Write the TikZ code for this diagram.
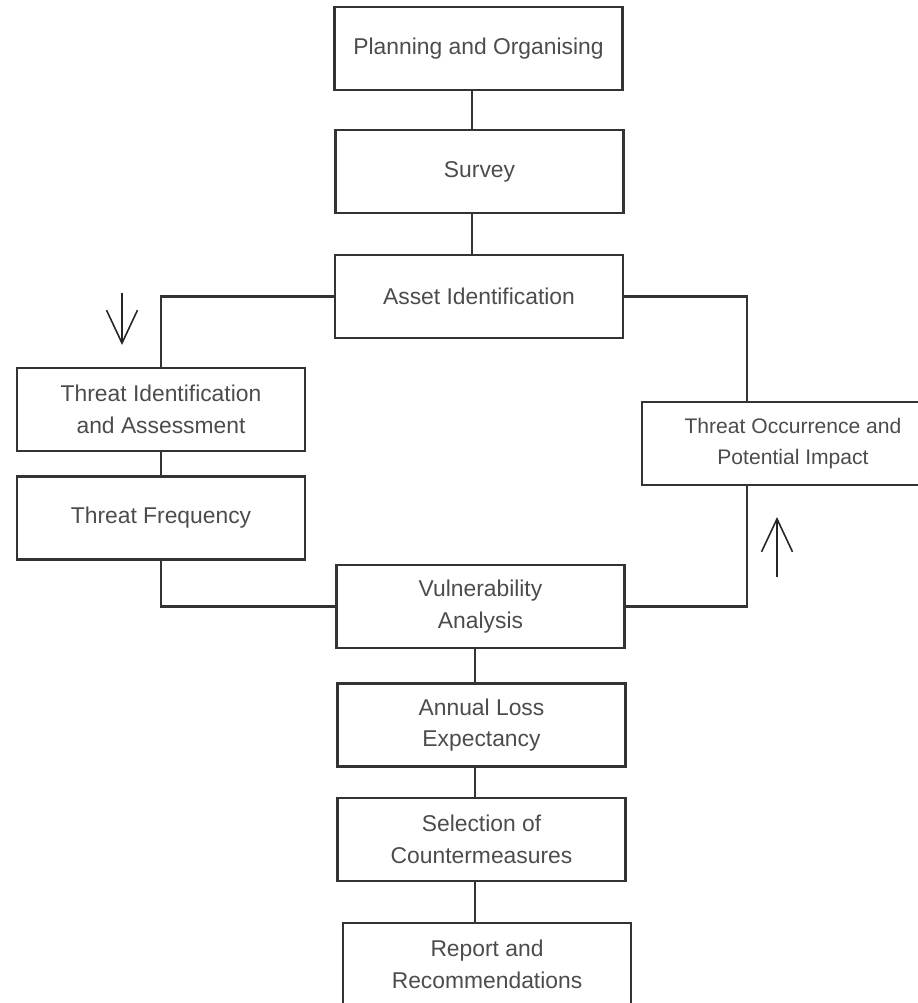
\documentclass[tikz,border=0pt]{standalone}
\usepackage{fontspec}
\setmainfont{Liberation Sans}
\usetikzlibrary{arrows.meta}
\begin{document}
\begin{tikzpicture}[x=0.02cm, y=-0.02cm,
	stage/.style = {draw=black!80, line width=1.2pt, minimum width=5.76cm, minimum height=1.66cm,
		align=center, text=black!70, font=\fontsize{13}{18}\selectfont},
	link/.style = {draw=black!80, line width=1.2pt},
	handarrow/.style = {black!85, line width=0.9pt, -{Straight Barb[length=0.66cm, width=0.62cm]}}]
	\useasboundingbox (0,0) rectangle (917,1003);
	% main column
	\node [stage] (plan) at (478.5,48.5) {Planning and Organising};
	\node [stage] (survey) at (479.5,171.5) {Survey};
	\node [stage] (asset) at (479,296.5) {Asset Identification};
	\node [stage] (vuln) at (480.5,606.5) {Vulnerability\\Analysis};
	\node [stage] (ale) at (481.5,725) {Annual Loss\\Expectancy};
	\node [stage] (select) at (481.5,839.5) {Selection of\\Countermeasures};
	\node [stage] (report) at (487,964.5) {Report and\\Recommendations};
	% side branches
	\node [stage] (threatid) at (161,409.5) {Threat Identification\\and Assessment};
	\node [stage] (freq) at (161,518) {Threat Frequency};
	\node [stage, minimum width=6.04cm, font=\fontsize{12}{18}\selectfont] (occur) at (793,443.5)
		{Threat Occurrence and\\Potential Impact};
	\coordinate (topline) at (472,0);
	\coordinate (lowline) at (475,0);
	\coordinate (rline) at (747,0);
	\draw [link] (plan.south -| topline) -- (survey.north -| topline);
	\draw [link] (survey.south -| topline) -- (asset.north -| topline);
	\draw [link] (asset.west) -| (threatid.north);
	\draw [link] (threatid) -- (freq);
	\draw [link] (freq.south) |- (vuln.west);
	\draw [link] (asset.east) -| (rline |- occur.north);
	\draw [link] (occur.south -| rline) |- (vuln.east);
	\draw [link] (vuln.south -| lowline) -- (ale.north -| lowline);
	\draw [link] (ale.south -| lowline) -- (select.north -| lowline);
	\draw [link] (select.south -| lowline) -- (report.north -| lowline);
	% hand drawn arrows
	\coordinate (dnfrom) at (122,293);
	\coordinate (dnto) at (122,345);
	\coordinate (upfrom) at (777,577);
	\coordinate (upto) at (777,517);
	\draw [handarrow] (dnfrom) -- (dnto);
	\draw [handarrow] (upfrom) -- (upto);
\end{tikzpicture}
\end{document}
